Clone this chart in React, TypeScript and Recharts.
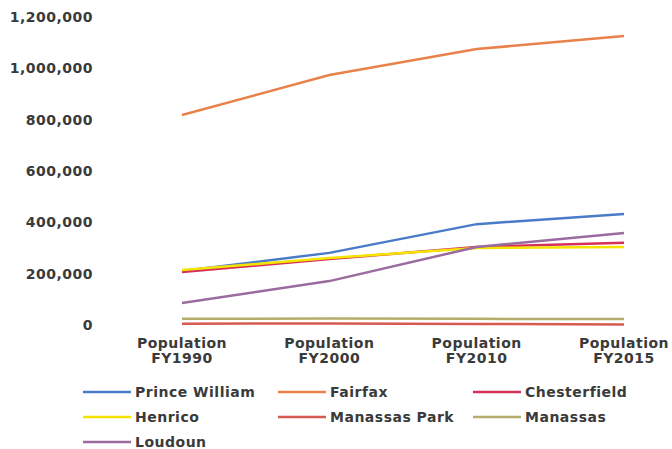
import React from "react";
import { Legend, Line, LineChart, XAxis, YAxis } from "recharts";

const categories = [
  "Population FY1990",
  "Population FY2000",
  "Population FY2010",
  "Population FY2015",
];

const princeWilliam = [210000, 281000, 393000, 432000];
const fairfax = [818000, 974000, 1075000, 1126000];
const chesterfield = [206000, 257000, 304000, 320000];
const henrico = [214000, 261000, 300000, 304000];
const manassasPark = [5000, 6000, 4000, 2000];
const manassas = [24000, 25000, 24000, 23000];
const loudoun = [86000, 171000, 304000, 358000];

const yTicks = [0, 200000, 400000, 600000, 800000, 1000000, 1200000];

const series = [
  { key: "Prince William", values: princeWilliam, color: "#4a7bc8" },
  { key: "Fairfax", values: fairfax, color: "#e8824a" },
  { key: "Chesterfield", values: chesterfield, color: "#d6305a" },
  { key: "Henrico", values: henrico, color: "#f5e400" },
  { key: "Manassas Park", values: manassasPark, color: "#d65a4f" },
  { key: "Manassas", values: manassas, color: "#b5ad6b" },
  { key: "Loudoun", values: loudoun, color: "#9a6b9e" },
];

const data = categories.map((c, i) => {
  const row: Record<string, string | number> = { name: c };
  series.forEach((s) => {
    row[s.key] = s.values[i];
  });
  return row;
});

const FONT = "'DejaVu Sans', sans-serif";
const TEXT = "#3a3a3a";

const fmt = (v: number) => v.toLocaleString("en-US");

function XTick({ x, y, payload }: any) {
  const [a, b] = String(payload.value).split(" ");
  return (
    <text
      x={x}
      y={y}
      textAnchor="middle"
      fill={TEXT}
      fontFamily={FONT}
      fontWeight="bold"
      fontSize={14}
      letterSpacing={0.5}
    >
      <tspan x={x} dy={23}>{a}</tspan>
      <tspan x={x} dy={15}>{b}</tspan>
    </text>
  );
}

const colLeft = [83, 278, 473];
const rowTop = [1, 26, 51];

function LegendBox({ payload }: any) {
  // keep the series order (Recharts sorts legend items by name)
  const items = series
    .map((s) => (payload || []).find((p: any) => p.value === s.key))
    .filter(Boolean);
  return (
    <div style={{ position: "relative", width: 672, height: 70 }}>
      {items.map((p: any, i: number) => (
        <div
          key={p.value}
          style={{
            position: "absolute",
            left: colLeft[i % 3],
            top: rowTop[Math.floor(i / 3)],
            height: 24,
            display: "flex",
            alignItems: "center",
            whiteSpace: "nowrap",
          }}
        >
          <svg width={50} height={6} style={{ marginRight: 2 }}>
            <line x1={0} y1={3} x2={48} y2={3} stroke={p.color} strokeWidth={2.5} />
          </svg>
          <span
            style={{
              fontFamily: FONT,
              fontWeight: "bold",
              fontSize: 14,
              letterSpacing: 0.5,
              color: TEXT,
            }}
          >
            {p.value}
          </span>
        </div>
      ))}
    </div>
  );
}

export default function App() {
  return (
    <div
      style={{
        position: "absolute",
        left: 0,
        top: 0,
        width: 672,
        height: 449,
        background: "#fff",
        overflow: "hidden",
      }}
    >
      <LineChart
        width={672}
        height={449}
        data={data}
        margin={{ top: 17, right: 0, bottom: 0, left: 0 }}
      >
        <XAxis
          dataKey="name"
          interval={0}
          axisLine={false}
          tickLine={false}
          tickSize={0}
          tickMargin={0}
          height={54}
          padding={{ left: 89, right: 48 }}
          tick={<XTick />}
        />
        <YAxis
          width={93}
          domain={[0, 1200000]}
          ticks={yTicks}
          interval={0}
          axisLine={false}
          tickLine={false}
          tickSize={0}
          tickMargin={0}
          tickFormatter={fmt}
          tick={{
            fill: TEXT,
            fontFamily: FONT,
            fontWeight: "bold",
            fontSize: 14,
            letterSpacing: 0.5,
          }}
        />
        <Legend
          verticalAlign="bottom"
          content={<LegendBox />}
          wrapperStyle={{ left: 0, top: 379, width: 672, height: 70 }}
        />
        {series.map((s) => (
          <Line
            key={s.key}
            dataKey={s.key}
            stroke={s.color}
            strokeWidth={2.5}
            dot={false}
            activeDot={false}
            isAnimationActive={false}
          />
        ))}
      </LineChart>
    </div>
  );
}
